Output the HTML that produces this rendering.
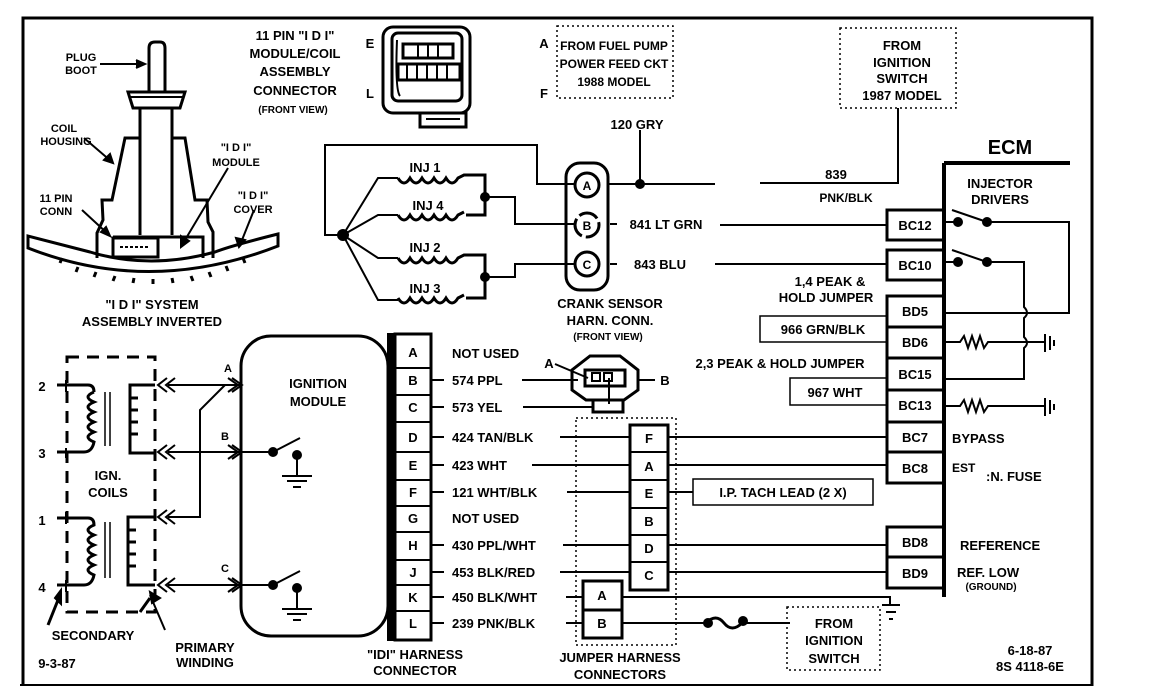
<!DOCTYPE html>
<html><head><meta charset="utf-8"><style>
html,body{margin:0;padding:0;background:#fff;}
svg{display:block;}
text{font-family:"Liberation Sans",sans-serif;font-weight:bold;fill:#000;}
</style></head><body>
<svg width="1152" height="688" viewBox="0 0 1152 688" xmlns="http://www.w3.org/2000/svg">
<g fill="none" stroke="#000" stroke-width="2">
<path d="M23,684 V18 H1092 V686" stroke-width="3"/>
<path d="M20,685 H1092" stroke-width="2"/>

<path d="M149,92 V48 Q149,42 155,42 H160 Q165,42 165,48 V92" stroke-width="3"/>
<path d="M128,92 H185 L180,108 H133 Z" stroke-width="3"/>
<path d="M130,97 H183" />
<path d="M140,108 V235 M172,108 V235" stroke-width="3"/>
<path d="M140,138 H125 L112,200 H102 L103,220 L97,233 V258 M172,138 H185 L195,200 H207 L208,222 L213,232 V258" stroke-width="3"/>
<path d="M113,237 H203 V258" stroke-width="3"/>
<rect x="113" y="238" width="45" height="19" stroke-width="3"/>
<path d="M120,247 H150" stroke-dasharray="3,2"/>
<path d="M28,236 L28,248 Q150,296 278,246 V234 Q230,246 215,252 Q150,270 90,252 Z" stroke-width="3"/>
<path d="M62,258 l-2,5 M78,267 l-2,5 M96,272 l-2,5 M115,276 l-2,5 M134,278 l-1,5 M153,279 v5 M172,278 l1,5 M191,276 l2,5 M209,272 l2,5 M226,266 l2,5 M243,258 l2,5" stroke-width="3"/>
<path d="M100,64 H142" /><path d="M136,60 L145,64 136,68" fill="#000"/>
<path d="M84,138 L112,162"/><path d="M104,160 L113,163 110,154 Z" fill="#000"/>
<path d="M82,210 L108,234"/><path d="M101,232 L110,236 106,227 Z" fill="#000"/>
<path d="M228,168 L182,245"/><path d="M181,236 L181,247 189,241 Z" fill="#000"/>
<path d="M254,210 L240,245"/><path d="M236,238 L239,247 245,240 Z" fill="#000"/>

<rect x="383" y="27" width="87" height="86" rx="10" stroke-width="3"/>
<rect x="392" y="33" width="70" height="68" rx="6" stroke-width="3"/>
<path d="M397,40 Q395,90 400,96"/>
<rect x="403" y="44" width="50" height="14" stroke-width="3"/>
<rect x="398" y="64" width="62" height="16" stroke-width="3"/>
<path d="M418,44v14M428,44v14M438,44v14M407,64v16M417,64v16M427,64v16M437,64v16M447,64v16"/>
<rect x="420" y="113" width="46" height="14" stroke-width="3"/>
<path d="M426,119 H460" />

<rect x="557" y="26" width="116" height="72" stroke-dasharray="2,3" stroke-width="1.5"/>
<rect x="840" y="28" width="116" height="80" stroke-dasharray="2,3" stroke-width="1.5"/>
<path d="M898,108 V183 H760" />
<path d="M640,130 V184" />
<circle cx="640" cy="184" r="4" fill="#000"/>

<rect x="566" y="163" width="42" height="127" rx="14" stroke-width="3"/>
<circle cx="587" cy="185" r="12" stroke-width="3"/>
<circle cx="587" cy="225" r="12" stroke-width="3" stroke-dasharray="20,4"/>
<circle cx="587" cy="264" r="12" stroke-width="3"/>
<path d="M608,184 H715"/>
<path d="M575,184 H537 V145 H325 V235 H343"/>
<circle cx="343" cy="235" r="5" fill="#000"/>
<path d="M343,235 L378,178 H398 M343,235 L378,215 H398 M343,235 L378,258 H398 M343,235 L378,300 H398"/>
<g stroke-width="3">
<path d="M398,178 q6,10 12,0 q6,10 12,0 q6,10 12,0 q6,10 12,0 q6,10 12,0 l6,-3 H485 V215 H466"/>
<path d="M398,215 q6,10 12,0 q6,10 12,0 q6,10 12,0 q6,10 12,0 q6,10 12,0 l6,-3"/>
<path d="M398,258 q6,10 12,0 q6,10 12,0 q6,10 12,0 q6,10 12,0 q6,10 12,0 l6,-3 H485 V298 H466"/>
<path d="M398,298 q6,10 12,0 q6,10 12,0 q6,10 12,0 q6,10 12,0 q6,10 12,0 l6,-3"/>
</g>
<circle cx="485" cy="197" r="4" fill="#000"/>
<circle cx="485" cy="277" r="4" fill="#000"/>
<path d="M485,197 H515 V224 H575 M485,277 H515 V264 H575"/>
<path d="M610,224 H617 M610,264 H617 M720,225 H887 M715,264 H887"/>

<path d="M944,163 V597" stroke-width="4"/>
<path d="M944,163 H1070" stroke-width="4"/>
<g stroke-width="3">
<rect x="887" y="210" width="57" height="30"/>
<rect x="887" y="250" width="57" height="30"/>
<rect x="887" y="296" width="57" height="31"/>
<rect x="887" y="327" width="57" height="31"/>
<rect x="887" y="358" width="57" height="32"/>
<rect x="887" y="390" width="57" height="32"/>
<rect x="887" y="422" width="57" height="30"/>
<rect x="887" y="452" width="57" height="31"/>
<rect x="887" y="527" width="57" height="30"/>
<rect x="887" y="557" width="57" height="31"/>
</g>
<circle cx="958" cy="222" r="4" fill="#000"/><circle cx="987" cy="222" r="4" fill="#000"/>
<circle cx="958" cy="262" r="4" fill="#000"/><circle cx="987" cy="262" r="4" fill="#000"/>
<path d="M944,222 H958 M952,210 L987,222 M987,222 H1069 V313 H944"/>
<path d="M944,262 H958 M952,250 L987,262 M987,262 H1024 V307 Q1030,313 1024,318 V337 Q1030,343 1024,348 V379 H944"/>
<path d="M944,342 H960 l4,-6 4,12 4,-12 4,12 4,-12 4,12 4,-6 H1044"/>
<path d="M1045,334 V352 M1050,336 V350 M1054,340 V346" stroke-width="2"/>
<path d="M944,406 H960 l4,-6 4,12 4,-12 4,12 4,-12 4,12 4,-6 H1044"/>
<path d="M1045,398 V416 M1050,400 V414 M1054,404 V410" stroke-width="2"/>
<rect x="760" y="316" width="127" height="26" stroke-width="1.5"/>
<rect x="790" y="378" width="97" height="27" stroke-width="1.5"/>

<rect x="67" y="357" width="88" height="255" stroke-dasharray="12,8" stroke-width="3"/>
<g stroke-width="3">
<path d="M57,385 H88 Q94,385 94,392 M94,392 q-12,5 0,10 q-12,5 0,10 q-12,5 0,10 q-12,5 0,10 q-12,5 0,10 q-2,10 -10,10 H57"/>
<path d="M57,518 H88 Q94,518 94,525 q-12,5 0,10 q-12,5 0,10 q-12,5 0,10 q-12,5 0,10 q-12,5 0,10 q-2,10 -10,10 H57"/>
<path d="M155,385 H130 V453 H155 M130,398 H138 M130,410 H138 M130,422 H138 M130,434 H138"/>
<path d="M155,517 H128 V585 H155 M128,530 H136 M128,542 H136 M128,554 H136 M128,566 H136"/>
<path d="M105,392 V446 M110,392 V446 M105,522 V578 M110,522 V578" stroke-width="1.5"/>
<path d="M66,380 V392 M66,448 V458 M66,512 V524 M66,580 V592" stroke-width="2"/>
</g>
<g stroke-width="2">
<path d="M167,378 L158,385 167,392 M175,378 L166,385 175,392 M168,385 H240"/>
<path d="M167,445 L158,452 167,459 M175,445 L166,452 175,459 M168,452 H240"/>
<path d="M167,510 L158,517 167,524 M175,510 L166,517 175,524 M168,517 H200 V410 L225,385"/>
<path d="M167,578 L158,585 167,592 M175,578 L166,585 175,592 M168,585 H240"/>
<path d="M228,378 L238,385 228,392 M232,378 L242,385 232,392"/>
<path d="M228,445 L238,452 228,459 M232,445 L242,452 232,459"/>
<path d="M228,578 L238,585 228,592 M232,578 L242,585 232,592"/>
<path d="M150,598 L140,612 M48,625 L58,600" stroke-width="3"/>
<path d="M165,630 L150,595"/>
</g>
<path d="M152,603 L150,592 160,598 Z M55,598 L61,590 61,604 Z" fill="#000"/>

<rect x="241" y="336" width="147" height="300" rx="30" stroke-width="3"/>
<path d="M240,452 H273 M273,452 L300,438 M297,455 V475 M282,476 H312 M287,481 H307 M293,487 H301"/>
<circle cx="273" cy="452" r="4" fill="#000"/><circle cx="297" cy="455" r="4" fill="#000"/>
<path d="M240,585 H273 M273,585 L300,571 M297,588 V608 M282,609 H312 M287,614 H307 M293,620 H301"/>
<circle cx="273" cy="585" r="4" fill="#000"/><circle cx="297" cy="588" r="4" fill="#000"/>

<rect x="388" y="334" width="7" height="306" fill="#000"/>
<rect x="395" y="334" width="36" height="306" stroke-width="3"/>
<path d="M395,368H431M395,395H431M395,422H431M395,452H431M395,480H431M395,506H431M395,532H431M395,560H431M395,585H431M395,611H431"/>
<path d="M431,380H444M431,407H444M431,437H444M431,465H444M431,492H444M431,545H444M431,572H444M431,597H444M431,623H444"/>
<path d="M522,380H578 M523,407H592 M560,437H630 M532,465H630 M567,492H630 M563,545H630 M560,572H630 M566,597H583 M566,623H583"/>
<path d="M668,437H887 M668,465H887 M668,492H693 M668,545H887 M668,572H887"/>
<path d="M622,597H890V605"/>
<path d="M882,605H900 M886,612H896 M889,619H893"/>
<path d="M622,623H705 M745,623H790"/>
<path d="M706,623 q10,-10 18,0 q8,10 18,0" stroke-width="3"/>
<circle cx="708" cy="623" r="4" fill="#000"/><circle cx="743" cy="621" r="4" fill="#000"/>
<rect x="630" y="425" width="38" height="165" stroke-width="3"/>
<path d="M630,452H668M630,480H668M630,508H668M630,535H668M630,562H668" stroke-width="2"/>
<rect x="583" y="581" width="39" height="57" stroke-width="3"/>
<path d="M583,610H622" stroke-width="3"/>
<rect x="576" y="418" width="100" height="227" stroke-dasharray="2,3" stroke-width="1.5"/>
<rect x="693" y="479" width="180" height="26" stroke-width="1.5"/>
<rect x="787" y="607" width="93" height="63" stroke-dasharray="2,3" stroke-width="1.5"/>

<path d="M590,356 H620 L638,370 V390 L624,400 H586 L572,390 V370 Z" stroke-width="3"/>
<rect x="585" y="370" width="40" height="16" stroke-width="3"/>
<rect x="592" y="373" width="8" height="8" stroke-width="2"/><rect x="604" y="373" width="8" height="8" stroke-width="2"/>
<rect x="593" y="400" width="30" height="12" stroke-width="3"/>
<path d="M555,364 L588,378 M638,380 H655 M609,378 V404"/>
</g>

<g font-size="13" text-anchor="middle">
<text x="81" y="61" font-size="11">PLUG</text><text x="81" y="74" font-size="11">BOOT</text>
<text x="64" y="132" font-size="11">COIL</text><text x="66" y="145" font-size="11">HOUSING</text>
<text x="56" y="202" font-size="11">11 PIN</text><text x="56" y="215" font-size="11">CONN</text>
<text x="236" y="151" font-size="11">"I D I"</text><text x="236" y="166" font-size="11">MODULE</text>
<text x="253" y="199" font-size="11">"I D I"</text><text x="253" y="213" font-size="11">COVER</text>
<text x="152" y="309">"I D I" SYSTEM</text><text x="152" y="326">ASSEMBLY INVERTED</text>
<text x="295" y="40">11 PIN "I D I"</text><text x="295" y="58">MODULE/COIL</text><text x="295" y="76">ASSEMBLY</text><text x="295" y="95">CONNECTOR</text>
<text x="293" y="113" font-size="10">(FRONT VIEW)</text>
<text x="370" y="48">E</text><text x="370" y="98">L</text><text x="544" y="48">A</text><text x="544" y="98">F</text>
<text x="614" y="50" font-size="12">FROM FUEL PUMP</text><text x="614" y="68" font-size="12">POWER FEED CKT</text><text x="614" y="86" font-size="12">1988 MODEL</text>
<text x="637" y="129">120 GRY</text>
<text x="902" y="50">FROM</text><text x="902" y="67">IGNITION</text><text x="902" y="83">SWITCH</text><text x="902" y="100">1987 MODEL</text>
<text x="836" y="179">839</text><text x="846" y="202" font-size="12">PNK/BLK</text>
<text x="1010" y="154" font-size="20">ECM</text>
<text x="1000" y="188">INJECTOR</text><text x="1000" y="204">DRIVERS</text>
<text x="915" y="230">BC12</text><text x="915" y="270">BC10</text><text x="915" y="316">BD5</text><text x="915" y="347">BD6</text>
<text x="915" y="379">BC15</text><text x="915" y="410">BC13</text><text x="915" y="442">BC7</text><text x="915" y="473">BC8</text>
<text x="915" y="547">BD8</text><text x="915" y="578">BD9</text>
<text x="830" y="286">1,4 PEAK &amp;</text><text x="826" y="302">HOLD JUMPER</text>
<text x="823" y="334">966 GRN/BLK</text><text x="780" y="368">2,3 PEAK &amp; HOLD JUMPER</text>
<text x="835" y="397">967 WHT</text>
<text x="425" y="172">INJ 1</text><text x="428" y="210">INJ 4</text><text x="425" y="252">INJ 2</text><text x="425" y="293">INJ 3</text>
<text x="587" y="190" font-size="12">A</text><text x="587" y="230" font-size="12">B</text><text x="587" y="269" font-size="12">C</text>
<text x="666" y="229">841 LT GRN</text><text x="660" y="269">843 BLU</text>
<text x="610" y="308">CRANK SENSOR</text><text x="610" y="325">HARN. CONN.</text><text x="608" y="340" font-size="10">(FRONT VIEW)</text>
<text x="318" y="388">IGNITION</text><text x="318" y="406">MODULE</text>
<text x="108" y="480">IGN.</text><text x="108" y="497">COILS</text>
<text x="42" y="391">2</text><text x="42" y="458">3</text><text x="42" y="525">1</text><text x="42" y="592">4</text>
<text x="228" y="372" font-size="11">A</text><text x="225" y="440" font-size="11">B</text><text x="225" y="572" font-size="11">C</text>
<text x="93" y="640">SECONDARY</text><text x="205" y="652">PRIMARY</text><text x="205" y="667">WINDING</text>
<text x="57" y="668">9-3-87</text>
<text x="413" y="357">A</text><text x="413" y="385">B</text><text x="413" y="412">C</text><text x="413" y="442">D</text><text x="413" y="470">E</text>
<text x="413" y="497">F</text><text x="413" y="523">G</text><text x="413" y="550">H</text><text x="413" y="577">J</text><text x="413" y="602">K</text><text x="413" y="628">L</text>
<text x="415" y="659">"IDI" HARNESS</text><text x="415" y="675">CONNECTOR</text>
<text x="549" y="368">A</text><text x="665" y="385">B</text>
<text x="649" y="443">F</text><text x="649" y="471">A</text><text x="649" y="498">E</text><text x="649" y="526">B</text><text x="649" y="553">D</text><text x="649" y="580">C</text>
<text x="602" y="600">A</text><text x="602" y="628">B</text>
<text x="620" y="662">JUMPER HARNESS</text><text x="620" y="679">CONNECTORS</text>
<text x="783" y="497">I.P. TACH LEAD (2 X)</text>
<text x="834" y="628">FROM</text><text x="834" y="645">IGNITION</text><text x="834" y="663">SWITCH</text>
<text x="1030" y="655">6-18-87</text><text x="1030" y="671">8S 4118-6E</text>
<text x="991" y="590" font-size="10">(GROUND)</text>
</g>
<g font-size="13" text-anchor="start">
<text x="452" y="358">NOT USED</text><text x="452" y="385">574 PPL</text><text x="452" y="412">573 YEL</text>
<text x="452" y="442">424 TAN/BLK</text><text x="452" y="470">423 WHT</text><text x="452" y="497">121 WHT/BLK</text>
<text x="452" y="523">NOT USED</text><text x="452" y="550">430 PPL/WHT</text><text x="452" y="577">453 BLK/RED</text>
<text x="452" y="602">450 BLK/WHT</text><text x="452" y="628">239  PNK/BLK</text>
<text x="952" y="443">BYPASS</text><text x="952" y="472" font-size="12">EST</text><text x="986" y="481">:N. FUSE</text>
<text x="960" y="550">REFERENCE</text><text x="957" y="577">REF. LOW</text>
</g>
</svg>
</body></html>
